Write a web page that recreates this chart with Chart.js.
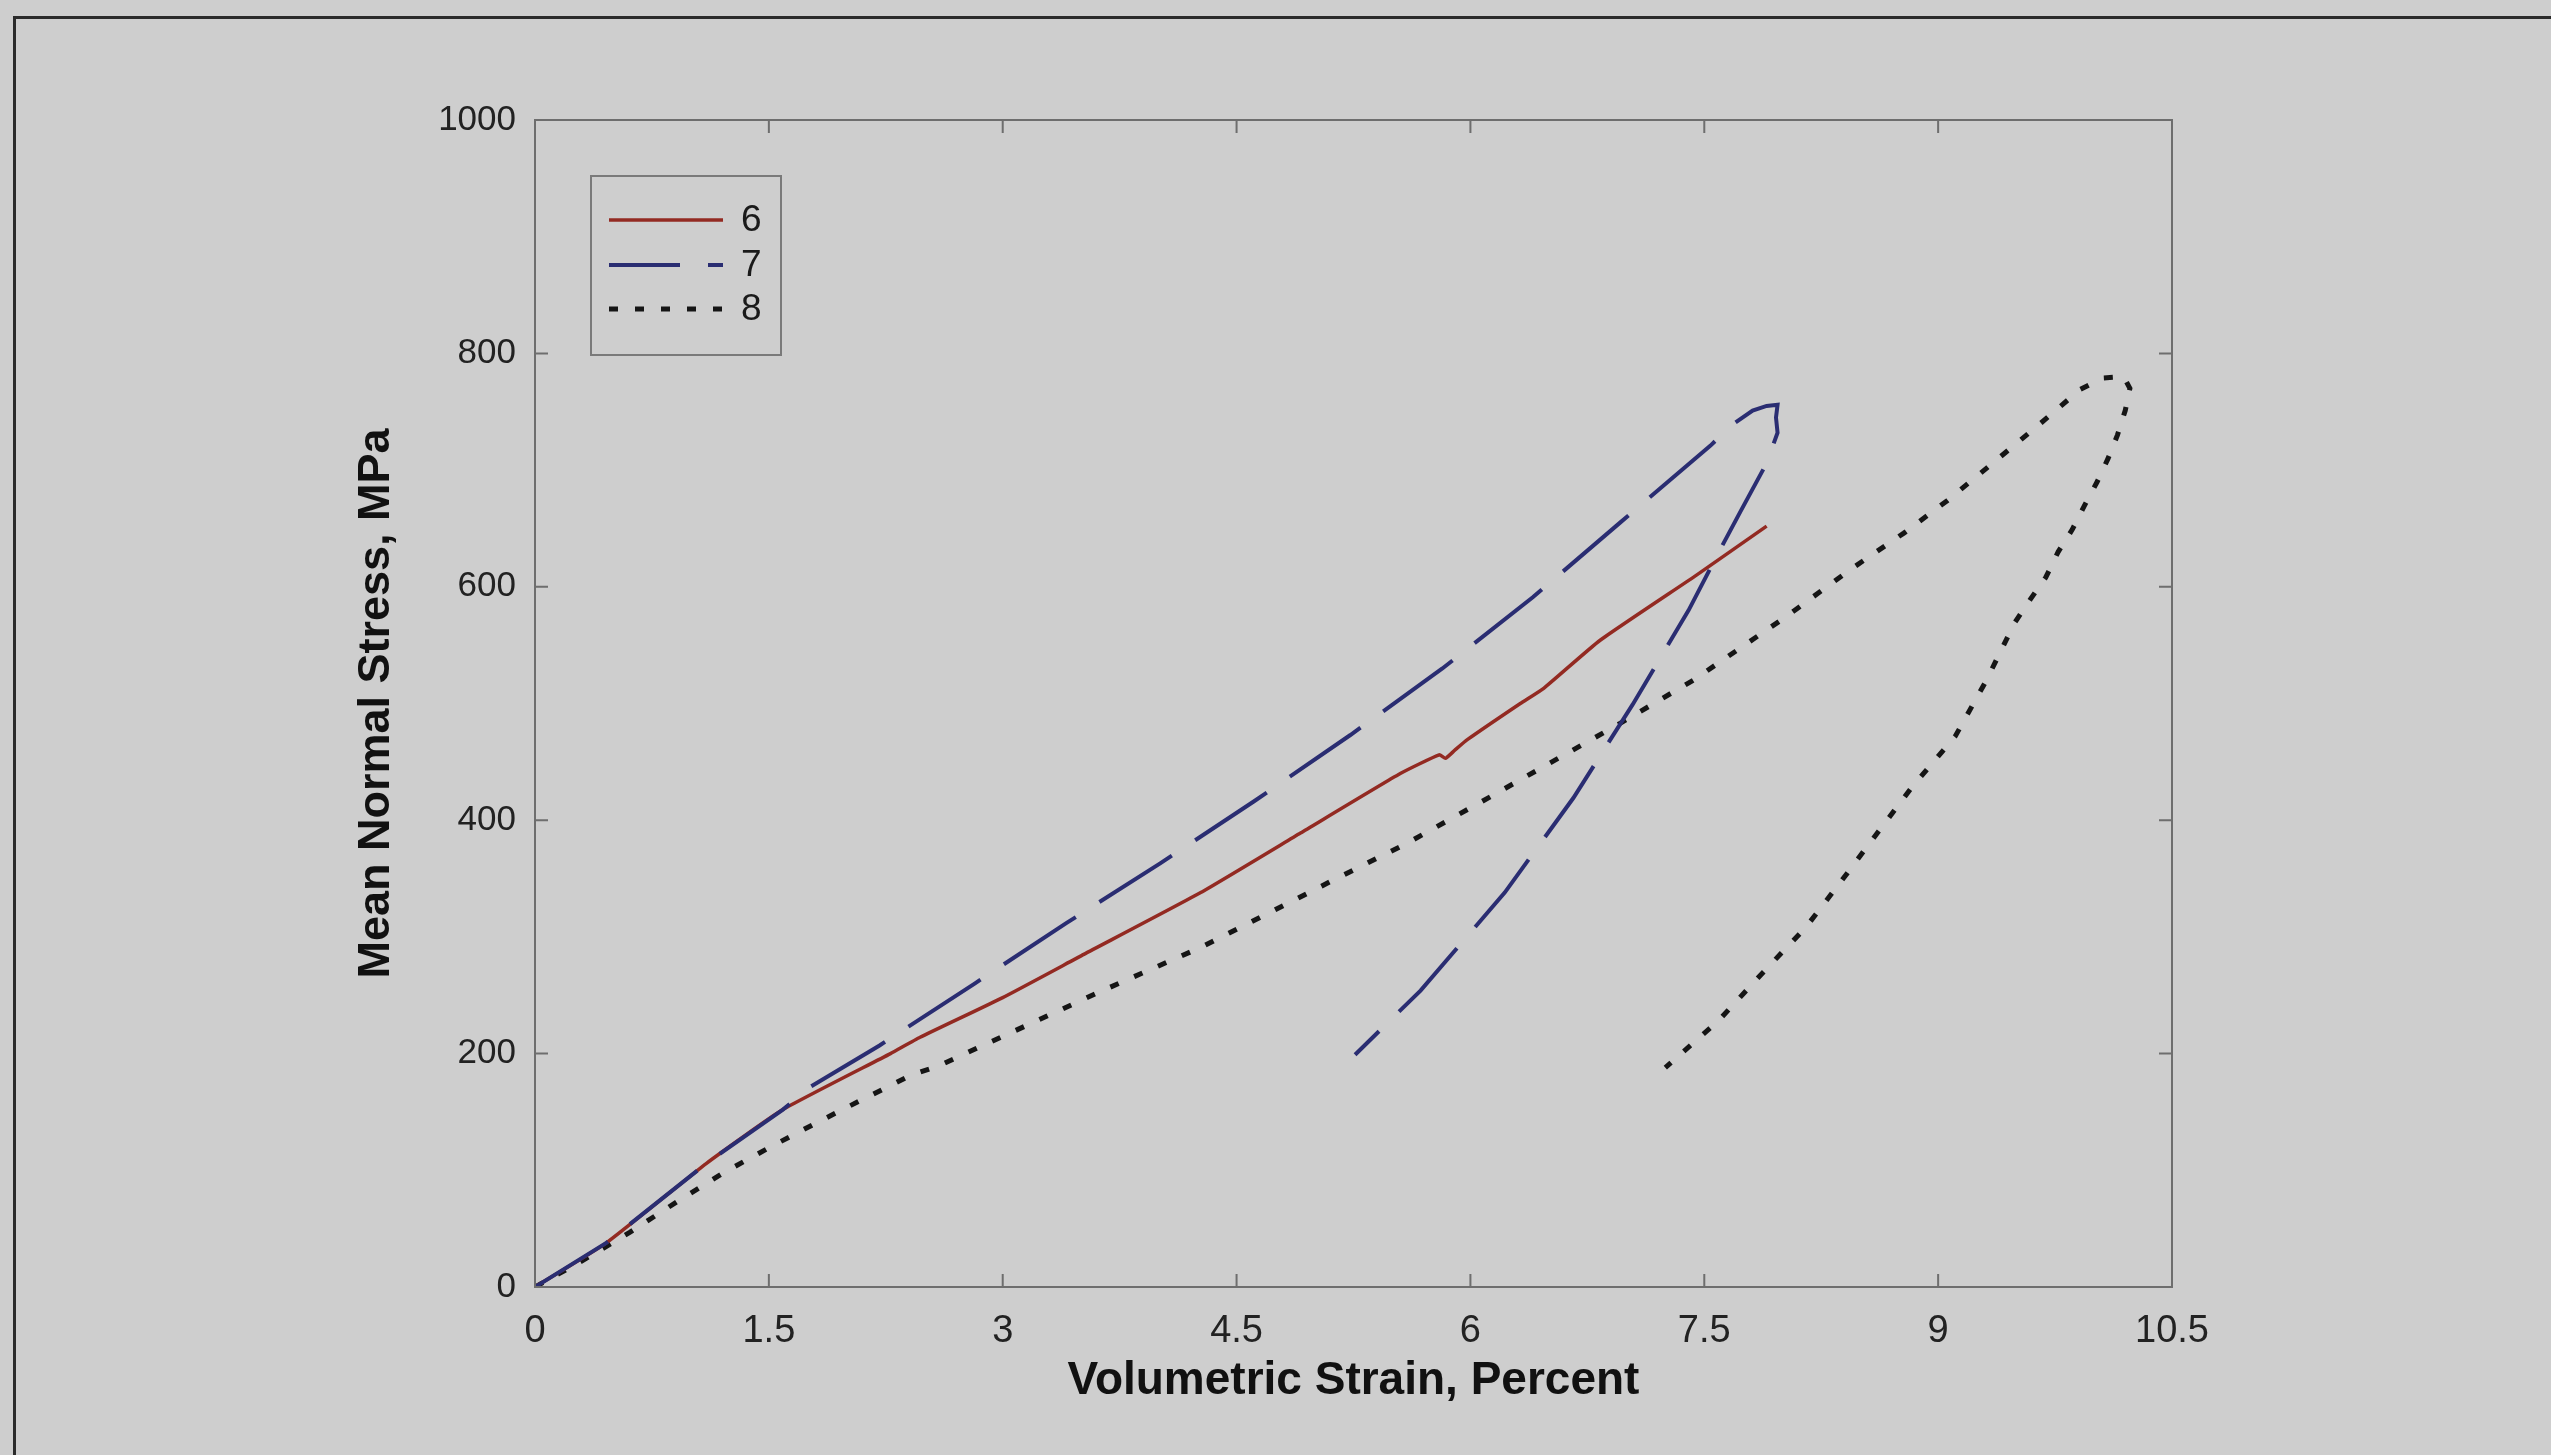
<!DOCTYPE html>
<html>
<head>
<meta charset="utf-8">
<script src="https://cdn.jsdelivr.net/npm/chart.js@4.4.0/dist/chart.umd.min.js"></script>
<style>
html,body{margin:0;padding:0;background:#cecece;}
#wrap{position:relative;width:2551px;height:1455px;overflow:hidden;}
canvas{position:absolute;left:0;top:0;}
#frameTop{position:absolute;left:13px;top:16px;width:2538px;height:3px;background:#2b2b2b;}
#frameLeft{position:absolute;left:13px;top:16px;width:3px;height:1439px;background:#2b2b2b;}
</style>
</head>
<body>
<div id="wrap">
<canvas id="c" width="2551" height="1455"></canvas>
<div id="frameTop"></div>
<div id="frameLeft"></div>
</div>
<script>
// ---- data ----
const seriesNames = ['6', '7', '8'];
const xTickLabels = ['0', '1.5', '3', '4.5', '6', '7.5', '9', '10.5'];
const yTickLabels = ['0', '200', '400', '600', '800', '1000'];

const s6x = [0, 0.46, 1.10, 1.59, 2.28, 2.47, 3.00, 3.52, 4.27, 4.91, 5.55, 5.80, 5.84, 5.90, 5.98, 6.32, 6.47, 6.83, 7.45, 7.90];
const s6y = [0, 38, 106, 152, 200, 214, 248, 285, 338, 389, 440, 456, 453, 460, 469, 500, 513, 554, 610, 652];

const s7x = [0, 0.46, 1.10, 1.59, 1.76, 2.21, 2.82, 3.41, 4.01, 4.61, 5.23, 5.82, 6.40, 6.96, 7.54, 7.67, 7.81, 7.90, 7.97, 7.96, 7.97, 7.90, 7.73, 7.59, 7.40, 7.04, 6.66, 6.22, 5.68, 5.26];
const s7y = [0, 38, 106, 152, 171, 207, 260, 312, 363, 416, 473, 530, 591, 655, 721, 738, 751, 755, 756, 745, 732, 706, 664, 629, 580, 499, 419, 338, 254, 199];

const s8x = [0, 0.31, 0.61, 0.91, 1.21, 1.51, 1.81, 2.12, 2.42, 2.58, 3.64, 4.27, 4.70, 5.14, 5.59, 6.06, 6.51, 6.96, 7.43, 8.02, 8.45, 8.78, 9.06, 9.35, 9.63, 9.91, 10.06, 10.19, 10.23, 10.20, 10.15, 10.09, 10.02, 9.94, 9.86, 9.77, 9.69, 9.59, 9.49, 9.31, 9.11, 8.83, 8.61, 8.38, 8.15, 7.88, 7.59, 7.25];
const s8y = [0, 23, 47, 73, 98, 120, 141, 162, 182, 189, 254, 291, 320, 350, 380, 415, 449, 483, 520, 574, 616, 646, 674, 706, 737, 769, 779, 780, 770, 751, 730, 710, 690, 670, 649, 630, 608, 589, 569, 520, 472, 428, 389, 348, 308, 270, 228, 188];

const toPts = (xs, ys) => xs.map((v, i) => ({x: v, y: ys[i]}));

const FONT = 'Arial, "Liberation Sans", Helvetica, sans-serif';

const framePlugin = {
  id: 'frameTicks',
  afterDraw(chart) {
    const {ctx, chartArea: a, scales: {x, y}} = chart;
    ctx.save();
    ctx.strokeStyle = '#6e6e6e';
    ctx.lineWidth = 2;
    ctx.setLineDash([]);
    ctx.strokeRect(a.left, a.top, a.right - a.left, a.bottom - a.top);
    const L = 13;
    ctx.beginPath();
    x.ticks.forEach(t => {
      const px = x.getPixelForValue(t.value);
      ctx.moveTo(px, a.bottom); ctx.lineTo(px, a.bottom - L);
      ctx.moveTo(px, a.top); ctx.lineTo(px, a.top + L);
    });
    y.ticks.forEach(t => {
      const py = y.getPixelForValue(t.value);
      ctx.moveTo(a.left, py); ctx.lineTo(a.left + L, py);
      ctx.moveTo(a.right, py); ctx.lineTo(a.right - L, py);
    });
    ctx.stroke();

    // legend box
    const bx = 591, by = 176, bw = 190, bh = 179;
    ctx.strokeStyle = '#7a7a7a';
    ctx.lineWidth = 2;
    ctx.strokeRect(bx, by, bw, bh);
    const rows = [44, 89, 133];
    const offsets = [0, 15, 0];
    chart.data.datasets.forEach((ds, i) => {
      const yy = by + rows[i];
      ctx.beginPath();
      ctx.strokeStyle = ds.borderColor;
      ctx.lineWidth = ds.borderWidth;
      ctx.setLineDash(ds.borderDash || []);
      ctx.lineDashOffset = offsets[i];
      ctx.moveTo(bx + 18, yy);
      ctx.lineTo(bx + 132, yy);
      ctx.stroke();
      ctx.setLineDash([]);
      ctx.fillStyle = '#1a1a1a';
      ctx.font = '37px ' + FONT;
      ctx.textAlign = 'left';
      ctx.textBaseline = 'middle';
      ctx.fillText(ds.label, bx + 150, yy + 1);
    });
    ctx.restore();
  }
};

new Chart(document.getElementById('c'), {
  type: 'scatter',
  data: {
    datasets: [
      {label: seriesNames[0], data: toPts(s6x, s6y), showLine: true, borderColor: '#932a22', borderWidth: 3.5, pointRadius: 0, tension: 0.15, order: 1, borderDash: []},
      {label: seriesNames[1], data: toPts(s7x, s7y), showLine: true, borderColor: '#2a2d72', borderWidth: 4, pointRadius: 0, tension: 0, order: 0, borderDash: [86, 28]},
      {label: seriesNames[2], data: toPts(s8x, s8y), showLine: true, borderColor: '#151515', borderWidth: 5, pointRadius: 0, tension: 0, order: 2, borderDash: [9, 17]}
    ]
  },
  options: {
    responsive: false,
    animation: false,
    devicePixelRatio: 1,
    layout: {padding: {left: 0, top: 120, right: 379, bottom: 0}},
    plugins: {legend: {display: false}, tooltip: {enabled: false}},
    scales: {
      x: {
        type: 'linear', min: 0, max: 10.5,
        grid: {display: false, drawTicks: false},
        border: {display: false},
        ticks: {stepSize: 1.5, padding: 22, color: '#222', font: {family: FONT, size: 38},
          callback: (v, i) => xTickLabels[i]},
        title: {display: true, text: 'Volumetric Strain, Percent', color: '#111', font: {family: FONT, size: 46, weight: 'bold'}, padding: {top: 0, bottom: 46}},
        afterFit: s => { s.height = 168; }
      },
      y: {
        type: 'linear', min: 0, max: 1000,
        grid: {display: false, drawTicks: false},
        border: {display: false},
        ticks: {stepSize: 200, padding: 19, color: '#222', font: {family: FONT, size: 35},
          callback: (v, i) => yTickLabels[i]},
        title: {display: true, text: 'Mean Normal Stress, MPa', color: '#111', font: {family: FONT, size: 45, weight: 'bold'}, padding: {top: 350, bottom: 0}},
        afterFit: s => { s.width = 535; }
      }
    }
  },
  plugins: [framePlugin]
});
</script>
</body>
</html>
